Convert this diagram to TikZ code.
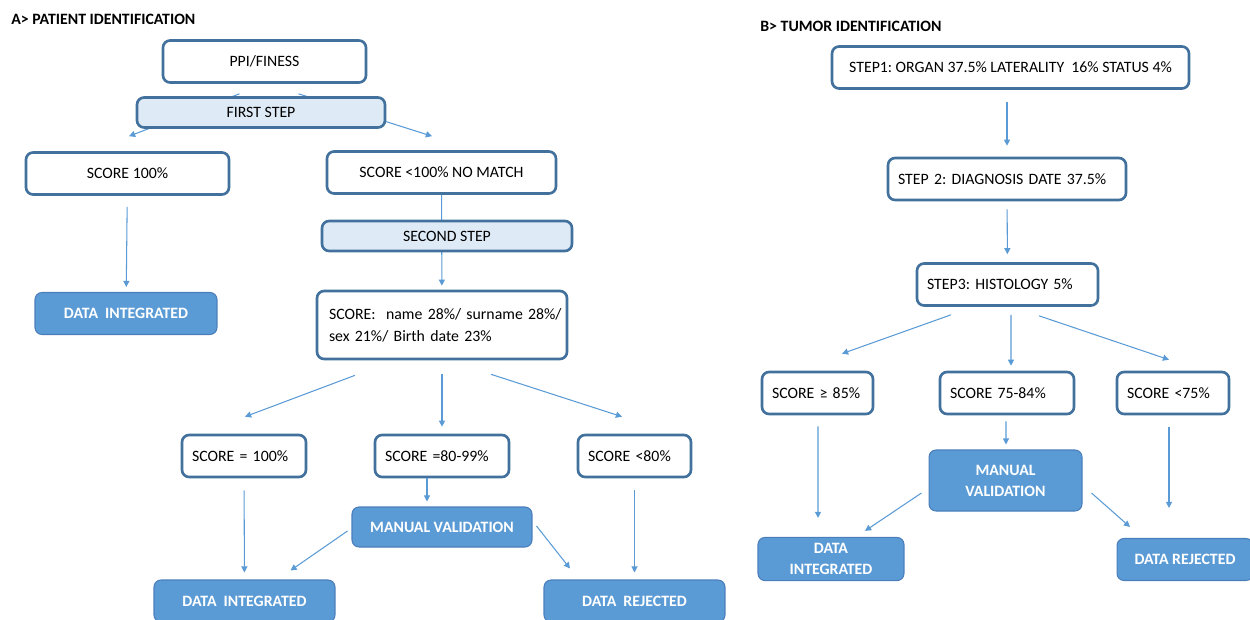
\documentclass[tikz,border=0pt]{standalone}
\usepackage{fontspec}
\setmainfont{Carlito}
\frenchspacing
\usetikzlibrary{arrows.meta,calc}
\definecolor{boxline}{RGB}{65,113,156}
\definecolor{steplight}{RGB}{222,235,247}
\definecolor{midblue}{RGB}{91,155,213}
\definecolor{darkline}{RGB}{74,126,187}
\tikzset{
  outbox/.style={draw=boxline, line width=1.5pt, rounded corners=4pt, fill=white, minimum height=0.84cm, inner xsep=0.2cm, font=\fontsize{9}{12.5}\selectfont},
  stepbox/.style={outbox, fill=steplight, minimum height=0.6cm},
  endbox/.style={draw=darkline, line width=0.6pt, rounded corners=4pt, fill=midblue, text=white, minimum height=0.84cm, align=center, font=\fontsize{9}{12}\selectfont\bfseries},
  link/.style={draw=midblue, line width=0.6pt, -{Triangle[length=3.5pt,width=3.5pt]}},
  heading/.style={anchor=west, inner sep=0pt, font=\fontsize{9}{11}\selectfont\bfseries}
}
\begin{document}
\begin{tikzpicture}[x=0.02cm, y=-0.02cm]
\useasboundingbox (0,0) rectangle (1250,619);

\node[heading] (titleA) at (11,19) {A> PATIENT IDENTIFICATION};
\node[outbox, minimum width=4.06cm] (ppi) at (264.5,61.5) {PPI/FINESS};
\node[outbox, minimum width=4.06cm] (s100) at (127.5,173.5) {SCORE 100\%};
\node[outbox, minimum width=4.58cm] (nomatch) at (441.5,172.5) {SCORE <100\% NO MATCH};
\node[endbox, minimum width=3.64cm] (dia) at (126,313.5) {DATA\ \ INTEGRATED};
\node[outbox, minimum height=1.36cm, inner xsep=0.24cm, text width=4.52cm, align=left] (weights) at (442,325) {\mbox{SCORE:\ \ name 28\%/ surname 28\%/}\\sex 21\%/ Birth date 23\%};
\node[outbox, text width=2.08cm, align=left] (seq) at (244,456) {SCORE = 100\%};
\node[outbox, text width=2.28cm, align=left] (s8099) at (442,456) {SCORE =80-99\%};
\node[outbox, text width=1.86cm, align=left] (slt80) at (634.5,456) {SCORE <80\%};
\node[endbox, minimum width=3.6cm, minimum height=0.8cm] (manA) at (442,527) {MANUAL VALIDATION};
\node[endbox, minimum width=3.62cm] (dib) at (244.5,601) {DATA\ \ INTEGRATED};
\node[endbox, minimum width=3.62cm] (drA) at (634.5,601) {DATA\ \ REJECTED};

% arrows of part A
\draw[link] ($(ppi.south)+(-25,10)$) -- ($(s100.north)+(1.5,-15)$);
\draw[link] ($(ppi.south)+(34,10)$) -- ($(nomatch.north)+(-9.5,-14)$);
\draw[link, shorten >=0.08cm] (nomatch) -- (weights);
\draw[link, shorten <=0.22cm, shorten >=0.1cm] (s100) -- (dia);
\draw[link] ($(weights.south)+(-87,15)$) -- ($(seq.north)+(1,-17)$);
\draw[link, shorten <=0.28cm, shorten >=0.14cm] (weights) -- (s8099);
\draw[link] ($(weights.south)+(49,14)$) -- ($(slt80.north)+(-12.5,-17)$);
\draw[link, shorten <=0.24cm, shorten >=0.14cm] (seq) -- (dib);
\draw[link] ($(s8099.south)+(-15,0)$) -- ($(manA.north)+(-15,-5)$);
\draw[link] ($(manA.west)+(-4,4)$) -- ($(dib.north)+(46,-9)$);
\draw[link] ($(manA.east)+(4,-1)$) -- ($(drA.north)+(-64.5,-11)$);
\draw[link, shorten <=0.24cm, shorten >=0.14cm] (slt80) -- (drA);

% step boxes lie over the arrows
\node[stepbox, minimum width=4.96cm] (first) at (261,112.5) {FIRST STEP};
\node[stepbox, minimum width=5.0cm] (second) at (447,236) {SECOND STEP};

\node[heading] (titleB) at (760,26) {B> TUMOR IDENTIFICATION};
\node[outbox, minimum width=7.14cm] (st1) at (1010.5,67.5) {STEP1: ORGAN 37.5\% LATERALITY\ \ 16\% STATUS 4\%};
\node[outbox, text width=4.36cm, align=left] (st2) at (1007,179) {STEP 2: DIAGNOSIS DATE 37.5\%};
\node[outbox, text width=3.22cm, align=left] (st3) at (1007.5,284.5) {STEP3: HISTOLOGY 5\%};
\node[outbox, text width=1.82cm, align=left] (sge) at (817.5,393) {SCORE ≥ 85\%};
\node[outbox, text width=2.28cm, align=left] (s7584) at (1007,393) {SCORE 75-84\%};
\node[outbox, text width=1.84cm, align=left] (slt75) at (1173,393) {SCORE <75\%};
\node[endbox, minimum width=3.06cm, minimum height=1.22cm] (manB) at (1005.5,480.5) {MANUAL\\VALIDATION};
\node[endbox, minimum width=2.92cm] (dibB) at (831,559) {DATA\\INTEGRATED};
\node[endbox, minimum width=2.72cm] (drB) at (1185,559.5) {DATA REJECTED};

% arrows of part B
\draw[link] ($(st1.south)+(-3.5,12)$) -- ($(st2.north)+(0,-11)$);
\draw[link, shorten <=0.16cm, shorten >=0.16cm] (st2) -- (st3);
\draw[link] ($(st3.south)+(-56.5,8)$) -- ($(sge.north)+(24.5,-17)$);
\draw[link] ($(st3.south)+(3.5,8)$) -- ($(s7584.north)+(4,-5)$);
\draw[link] ($(st3.south)+(31.5,9)$) -- ($(slt75.north)+(-4,-11)$);
\draw[link] ($(sge.south)+(0.5,11)$) -- ($(dibB.north)+(-13,-19)$);
\draw[link] ($(s7584.south)+(-1,6)$) -- ($(manB.north)+(0.5,-5)$);
\draw[link] ($(manB.west)+(-7,12.5)$) -- ($(dibB.north)+(34,-6)$);
\draw[link] ($(manB.east)+(9,12.5)$) -- ($(drB.north)+(-55,-11)$);
\draw[link] ($(slt75.south)+(-4,12)$) -- ($(drB.north)+(-16,-30)$);
\end{tikzpicture}
\end{document}
